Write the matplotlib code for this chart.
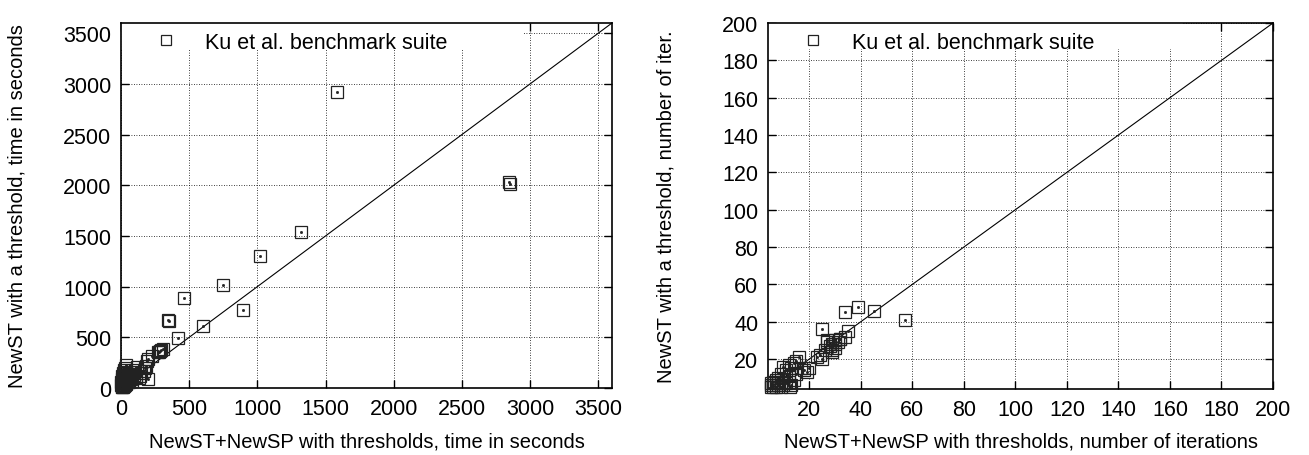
import matplotlib.pyplot as plt
import numpy as np
from matplotlib.patches import Rectangle

plt.rcParams['font.family'] = ['Liberation Sans', 'DejaVu Sans']
plt.rcParams['font.size'] = 15

# Running times (seconds): NewST+NewSP with thresholds vs. NewST with a threshold
time_x = [2845, 2855, 1584, 1320, 1020, 745, 465, 895, 600, 350, 346, 420,
          310, 290, 285, 282, 270, 230, 200, 190, 180, 175, 165, 200, 140,
          150, 130, 110, 95, 80, 70, 60, 55, 50, 45, 40, 35, 30, 25, 20,
          15, 12, 10, 8, 6, 5, 3, 2, 18, 22, 28, 33, 38, 42, 48, 65, 75,
          85, 100, 120, 12, 20, 30, 40, 8, 4]
time_y = [2030, 2010, 2915, 1540, 1300, 1020, 885, 765, 612, 662, 670, 497,
          380, 375, 365, 360, 355, 315, 290, 265, 220, 200, 170, 88, 120,
          150, 95, 110, 130, 70, 90, 60, 100, 55, 80, 40, 60, 25, 45, 15,
          30, 5, 20, 10, 45, 90, 60, 30, 50, 80, 130, 110, 160, 95, 140,
          120, 140, 160, 180, 210, 150, 180, 200, 230, 120, 8]

# Iteration counts
iter_x = [57, 45, 39, 34, 25, 35, 34, 32, 30, 29, 28, 27, 30, 31, 26, 29,
          24, 23, 25, 16, 15, 14, 12, 10, 13, 11, 17, 18, 19, 20, 15, 9, 8,
          12, 14, 10, 7, 6, 5, 5, 6, 7, 8, 9, 10, 11, 12, 13, 5, 6, 7, 8,
          9, 12.5, 27, 30, 29, 32]
iter_y = [41, 46, 48, 45, 36, 35, 32, 31, 30, 28, 27, 29, 26, 29, 25, 24,
          22, 21, 20, 21, 19, 18, 17, 16, 15, 14, 15, 14, 13, 15, 12, 12,
          10, 11, 9, 8, 8, 6, 5, 6, 5, 5, 6, 7, 6, 7, 8, 6, 7, 8, 9, 7, 5,
          5, 30, 28, 25, 31]

time_ticks = [0, 500, 1000, 1500, 2000, 2500, 3000, 3500]
iter_ticks = [20, 40, 60, 80, 100, 120, 140, 160, 180, 200]

W, H = 1309, 456
fig = plt.figure(figsize=(W / 100, H / 100), dpi=100)


def px_axes(left, top, right, bottom):
    return fig.add_axes([left / W, 1 - bottom / H, (right - left) / W, (bottom - top) / H])


def draw_panel(ax, xs, ys, lo, hi, ticks, xlabel, ylabel, ylab_x, xlab_y):
    ax.set_xlim(lo, hi)
    ax.set_ylim(lo, hi)
    ax.set_axisbelow(True)
    ax.grid(True, color='black', linestyle=(0, (1, 2)), linewidth=0.6)
    # white key area hides the grid under the legend
    ax.add_patch(Rectangle((0, 1 - 0.072), 0.82, 0.072, transform=ax.transAxes,
                           facecolor='white', edgecolor='none', zorder=1))
    ax.plot([lo, hi], [lo, hi], color='black', linewidth=0.8, zorder=2)
    ax.plot(xs, ys, linestyle='none', marker='s', markersize=8.5,
            markerfacecolor='none', markeredgecolor='#222222',
            markeredgewidth=0.9, clip_on=False, zorder=3,
            label='Ku et al. benchmark suite')
    ax.plot(xs, ys, linestyle='none', marker='s', markersize=1.0,
            color='#222222', clip_on=False, zorder=3)
    ax.set_xticks(ticks)
    ax.set_yticks(ticks)
    ax.tick_params(direction='in', length=6, width=1, top=True, right=True,
                   labelsize=15.5, pad=7)
    for s in ax.spines.values():
        s.set_linewidth(1.2)
    ax.set_xlabel(xlabel, fontsize=14.5)
    ax.set_ylabel(ylabel, fontsize=14.5)
    ax.xaxis.set_label_coords(0.5, xlab_y)
    ax.yaxis.set_label_coords(ylab_x, 0.5)
    ax.legend(loc='upper left', frameon=False, handletextpad=0.8,
              borderaxespad=0.0, bbox_to_anchor=(0.03, 1.0),
              fontsize=15.5, markerscale=0.8)


ax1 = px_axes(121, 24, 612, 389)
draw_panel(ax1, time_x, time_y, 0, 3600, time_ticks,
           'NewST+NewSP with thresholds, time in seconds',
           'NewST with a threshold, time in seconds', -0.193, -0.12)

ax2 = px_axes(768, 24, 1273, 390)
draw_panel(ax2, iter_x, iter_y, 4, 200, iter_ticks,
           'NewST+NewSP with thresholds, number of iterations',
           'NewST with a threshold, number of iter.', -0.184, -0.117)

fig.savefig('out.png', dpi=100)
